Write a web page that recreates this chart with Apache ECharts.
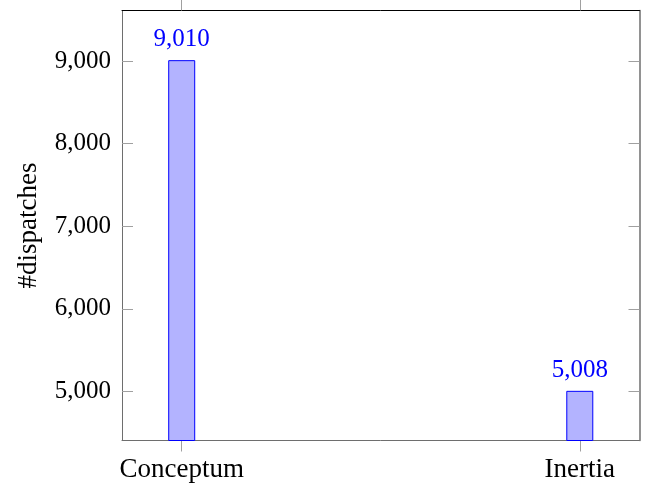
<!DOCTYPE html>
<html>
<head>
<meta charset="utf-8">
<script src="https://cdn.jsdelivr.net/npm/echarts@6/dist/echarts.min.js"></script>
<style>html,body{margin:0;padding:0;background:#fff}#c{width:650px;height:491px}</style>
</head>
<body>
<div id="c"></div>
<script>
const categories = ['Conceptum', 'Inertia'];
const dispatches = [9010, 5008];
const yTicks = [5000, 6000, 7000, 8000, 9000];
const yLabel = '#dispatches';

const FONT = 'Liberation Serif';
const FS = 25;
const FS_TEXT = 27;
const fmt = v => Number(v).toLocaleString('en-US');
const xPos = categories.map((c, i) => i);
const axisGray = '#6e6e6e';
const tickGray = '#a0a0a0';

const chart = echarts.init(document.getElementById('c'), null, {renderer: 'canvas'});
chart.setOption({
  animation: false,
  backgroundColor: '#fff',
  grid: {left: 122, right: 10.5, top: 10.5, bottom: 50.5, containLabel: false},
  xAxis: [{
    type: 'value', position: 'bottom', min: -0.15, max: 1.15,
    axisLine: {show: true, onZero: false, lineStyle: {color: axisGray, width: 1}},
    axisTick: {show: true, inside: false, length: 11, customValues: xPos, lineStyle: {color: tickGray}},
    axisLabel: {show: true, customValues: xPos, formatter: v => categories[Math.round(v)],
      fontFamily: FONT, fontSize: FS_TEXT, color: '#000', margin: 16},
    splitLine: {show: false}
  }, {
    type: 'value', position: 'top', min: -0.15, max: 1.15,
    axisLine: {show: true, onZero: false, lineStyle: {color: '#000', width: 1}},
    axisTick: {show: true, inside: false, length: 11, customValues: xPos, lineStyle: {color: tickGray}},
    axisLabel: {show: false},
    splitLine: {show: false}
  }],
  yAxis: [{
    type: 'value', position: 'left', min: 4407, max: 9611,
    name: yLabel, nameLocation: 'middle', nameRotate: 90, nameGap: 80,
    nameTextStyle: {fontFamily: FONT, fontSize: FS_TEXT, color: '#000'},
    axisLine: {show: true, onZero: false, lineStyle: {color: axisGray, width: 1}},
    axisTick: {show: true, inside: true, length: 11, customValues: yTicks, lineStyle: {color: tickGray}},
    axisLabel: {show: true, customValues: yTicks, formatter: fmt,
      fontFamily: FONT, fontSize: FS, color: '#000', margin: 11},
    splitLine: {show: false}
  }, {
    type: 'value', position: 'right', min: 4407, max: 9611,
    axisLine: {show: true, onZero: false, lineStyle: {color: axisGray, width: 1.5}},
    axisTick: {show: true, inside: true, length: 11, customValues: yTicks, lineStyle: {color: tickGray}},
    axisLabel: {show: false},
    splitLine: {show: false}
  }],
  series: [{
    type: 'bar',
    xAxisIndex: 0, yAxisIndex: 0,
    barWidth: 27,
    data: dispatches.map((v, i) => [xPos[i], v]),
    itemStyle: {color: '#b3b3ff', borderColor: '#0000ff', borderWidth: 1},
    label: {show: true, position: 'top', distance: 8, formatter: p => fmt(p.value[1]),
      fontFamily: FONT, fontSize: FS, color: '#0000ff'}
  }]
});
</script>
</body>
</html>
